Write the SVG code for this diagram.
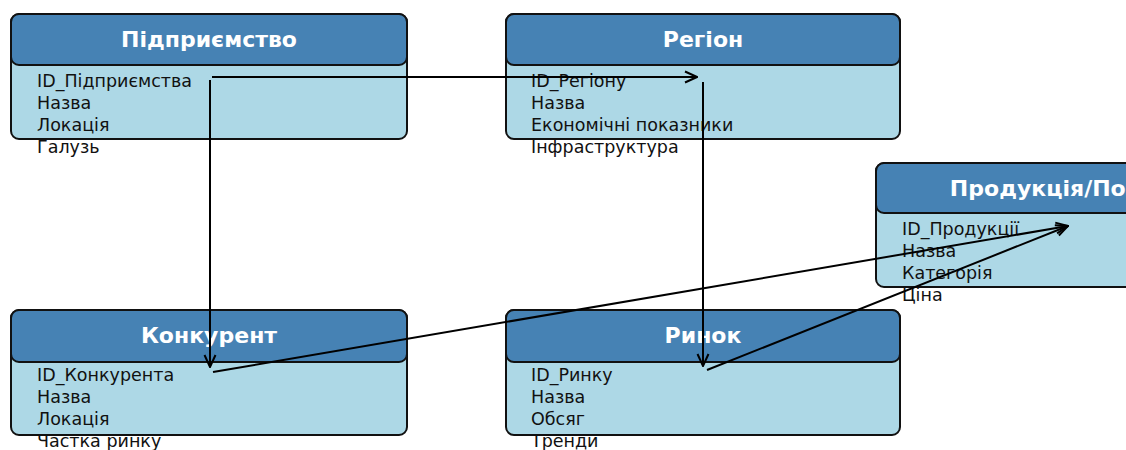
<svg xmlns="http://www.w3.org/2000/svg" width="1126" height="450" viewBox="0 0 1126 450">
<defs>
<style>
.body{fill:#add8e6;stroke:#111;stroke-width:2}
.head{fill:#4682b4;stroke:#111;stroke-width:2}
.title{font-family:"DejaVu Sans",sans-serif;font-weight:bold;font-size:22px;fill:#fff;text-anchor:middle}
.field{font-family:"DejaVu Sans",sans-serif;font-size:17.5px;fill:#111}
.conn{stroke:#000;stroke-width:2;fill:none;marker-end:url(#arr)}
</style>
<marker id="arr" viewBox="0 0 14 14" refX="13" refY="7" markerWidth="14" markerHeight="14" markerUnits="userSpaceOnUse" orient="auto">
<polyline points="1,1.5 13,7 1,12.5" fill="none" stroke="#000" stroke-width="2"/>
</marker>
</defs>
<rect width="1126" height="450" fill="#fff"/>
<g id="node-pidpryemstvo">
<rect class="body" x="11" y="14" width="396" height="125" rx="8"/>
<rect class="head" x="11" y="14" width="396" height="51" rx="8"/>
<text class="title" x="209" y="47">Підприємство</text>
<text class="field" x="37" y="87">ID_Підприємства</text>
<text class="field" x="37" y="109">Назва</text>
<text class="field" x="37" y="131">Локація</text>
<text class="field" x="37" y="153">Галузь</text>
</g>
<g id="node-region">
<rect class="body" x="506" y="14" width="394" height="125" rx="8"/>
<rect class="head" x="506" y="14" width="394" height="51" rx="8"/>
<text class="title" x="703" y="47">Регіон</text>
<text class="field" x="531" y="87">ID_Регіону</text>
<text class="field" x="531" y="109">Назва</text>
<text class="field" x="531" y="131">Економічні показники</text>
<text class="field" x="531" y="153">Інфраструктура</text>
</g>
<g id="node-produktsiia">
<rect class="body" x="876" y="163" width="394" height="124" rx="8"/>
<rect class="head" x="876" y="163" width="394" height="50" rx="8"/>
<text class="title" x="1073" y="196">Продукція/Послуги</text>
<text class="field" x="902" y="235">ID_Продукції</text>
<text class="field" x="902" y="257">Назва</text>
<text class="field" x="902" y="279">Категорія</text>
<text class="field" x="902" y="301">Ціна</text>
</g>
<g id="node-konkurent">
<rect class="body" x="11" y="310" width="396" height="125" rx="8"/>
<rect class="head" x="11" y="310" width="396" height="52" rx="8"/>
<text class="title" x="209" y="343">Конкурент</text>
<text class="field" x="37" y="381">ID_Конкурента</text>
<text class="field" x="37" y="403">Назва</text>
<text class="field" x="37" y="425">Локація</text>
<text class="field" x="37" y="447">Частка ринку</text>
</g>
<g id="node-rynok">
<rect class="body" x="506" y="310" width="394" height="125" rx="8"/>
<rect class="head" x="506" y="310" width="394" height="52" rx="8"/>
<text class="title" x="703" y="343">Ринок</text>
<text class="field" x="531" y="381">ID_Ринку</text>
<text class="field" x="531" y="403">Назва</text>
<text class="field" x="531" y="425">Обсяг</text>
<text class="field" x="531" y="447">Тренди</text>
</g>
<g id="connectors">
<line class="conn" x1="212" y1="77" x2="697" y2="77"/>
<line class="conn" x1="210" y1="80" x2="210" y2="367"/>
<line class="conn" x1="703" y1="82" x2="703" y2="366"/>
<line class="conn" x1="213" y1="372" x2="1068" y2="226"/>
<line class="conn" x1="707" y1="370" x2="1068" y2="226"/>
</g>
</svg>
